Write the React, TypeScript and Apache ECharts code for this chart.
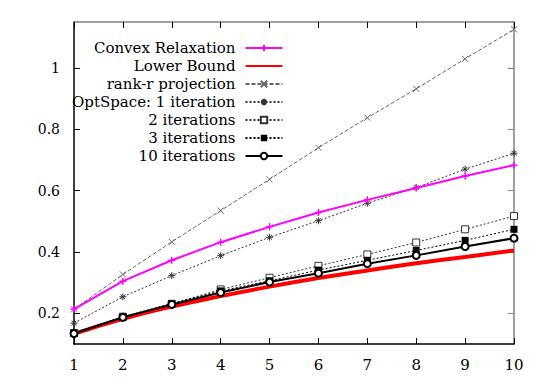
import React, { useEffect, useRef } from "react";
import * as echarts from "echarts";

const xValues = [1, 2, 3, 4, 5, 6, 7, 8, 9, 10];
const convexRelaxation = [0.214, 0.305, 0.373, 0.432, 0.482, 0.529, 0.570, 0.609, 0.648, 0.683];
const lowerBound = [0.133, 0.182, 0.222, 0.256, 0.287, 0.315, 0.340, 0.363, 0.384, 0.405];
const rankR = [0.213, 0.327, 0.433, 0.535, 0.637, 0.740, 0.838, 0.932, 1.030, 1.126];
const opt1 = [0.168, 0.254, 0.323, 0.388, 0.448, 0.502, 0.559, 0.610, 0.670, 0.722];
const opt2 = [0.136, 0.189, 0.231, 0.278, 0.316, 0.355, 0.392, 0.431, 0.474, 0.517];
const opt3 = [0.135, 0.188, 0.232, 0.273, 0.306, 0.341, 0.373, 0.405, 0.438, 0.474];
const opt10 = [0.134, 0.187, 0.229, 0.268, 0.302, 0.331, 0.362, 0.389, 0.418, 0.445];
const yTicks = [0.2, 0.4, 0.6, 0.8, 1];
const xTicks = [1, 2, 3, 4, 5, 6, 7, 8, 9, 10];

const FONT = "DejaVu Serif";
const PLUS = "path://M0,5H10M5,0V10";
const CROSS = "path://M0,0L10,10M10,0L0,10";
const STAR = "path://M0,5H10M5,0V10M1.5,1.5L8.5,8.5M8.5,1.5L1.5,8.5";

function pairs(v: number[]) {
  return xValues.map((x, i) => [x, v[i]]);
}

export default function App() {
  const ref = useRef<HTMLDivElement>(null);
  useEffect(() => {
    if (!ref.current) return;
    const chart = echarts.init(ref.current, undefined, { renderer: "svg" });
    const gray = "#666666";
    const dark = "#333333";
    chart.setOption({
      animation: false,
      backgroundColor: "#ffffff",
      textStyle: { fontFamily: FONT, fontSize: 15, color: "#000" },
      grid: { left: 74, top: 22, width: 440, height: 322 },
      legend: {
        orient: "vertical",
        left: 67,
        top: 34,
        align: "right",
        itemWidth: 37,
        itemHeight: 8,
        itemGap: 0,
        textStyle: {
          fontFamily: FONT,
          fontSize: 15,
          color: "#000",
          width: 148,
          height: 18,
          lineHeight: 18,
          align: "right",
          padding: [0, 5, 0, 0],
        },
        data: [
          "Convex Relaxation",
          { name: "Lower Bound", itemStyle: { opacity: 0 } },
          "rank-r projection",
          "OptSpace: 1 iteration",
          "2 iterations",
          "3 iterations",
          "10 iterations",
        ],
      },
      xAxis: [
        {
          type: "value",
          min: 1,
          max: 10,
          interval: 1,
          position: "bottom",
          axisLine: { lineStyle: { color: "#000", width: 1.5 } },
          axisTick: { inside: true, length: 6, lineStyle: { color: "#000" } },
          axisLabel: {
            fontFamily: FONT,
            fontSize: 15,
            color: "#000",
            margin: 13,
            customValues: xTicks,
            formatter: (v: number) => String(v),
          },
          splitLine: { show: false },
        },
        {
          type: "value",
          min: 1,
          max: 10,
          interval: 1,
          position: "top",
          axisLine: { lineStyle: { color: "#808080", width: 1.5 } },
          axisTick: { inside: true, length: 6, lineStyle: { color: "#000" } },
          axisLabel: { show: false },
          splitLine: { show: false },
        },
      ],
      yAxis: [
        {
          type: "value",
          min: 0.1,
          max: 1.15,
          position: "left",
          axisLine: { show: true, lineStyle: { color: "#000", width: 1.5 } },
          axisTick: { show: true, inside: true, length: 6, lineStyle: { color: "#000" }, customValues: yTicks },
          axisLabel: {
            fontFamily: FONT,
            fontSize: 14,
            color: "#000",
            margin: 14,
            customValues: yTicks,
            formatter: (v: number) => String(Math.round(v * 10) / 10),
          },
          splitLine: { show: false },
        },
        {
          type: "value",
          min: 0.1,
          max: 1.15,
          position: "right",
          axisLine: { show: true, lineStyle: { color: "#808080", width: 1.5 } },
          axisTick: { show: true, inside: true, length: 6, lineStyle: { color: "#808080" }, customValues: yTicks },
          axisLabel: { show: false },
          splitLine: { show: false },
        },
      ],
      series: [
        {
          name: "Convex Relaxation",
          type: "line",
          data: pairs(convexRelaxation),
          symbol: PLUS,
          symbolSize: 7,
          lineStyle: { color: "#ff00ff", width: 2 },
          itemStyle: { color: "#ff00ff", borderColor: "#ff00ff", borderWidth: 1.5 },
          z: 5,
        },
        {
          name: "Lower Bound",
          type: "line",
          data: pairs(lowerBound),
          smooth: true,
          showSymbol: false,
          symbol: "none",
          lineStyle: { color: "#ff0000", width: 4 },
          itemStyle: { color: "#ff0000" },
          z: 3,
        },
        {
          name: "rank-r projection",
          type: "line",
          data: pairs(rankR),
          symbol: CROSS,
          symbolSize: 6,
          lineStyle: { color: gray, width: 1, type: [4, 2] },
          itemStyle: { color: gray, borderColor: gray, borderWidth: 1 },
        },
        {
          name: "OptSpace: 1 iteration",
          type: "line",
          data: pairs(opt1),
          symbol: STAR,
          symbolSize: 7,
          lineStyle: { color: dark, width: 1, type: [2, 2] },
          itemStyle: { color: dark, borderColor: dark, borderWidth: 1 },
        },
        {
          name: "2 iterations",
          type: "line",
          data: pairs(opt2),
          symbol: "rect",
          symbolSize: 7,
          lineStyle: { color: dark, width: 1, type: [2, 2] },
          itemStyle: { color: "#fff", borderColor: dark, borderWidth: 1 },
        },
        {
          name: "3 iterations",
          type: "line",
          data: pairs(opt3),
          symbol: "rect",
          symbolSize: 7,
          lineStyle: { color: "#000", width: 1, type: [2, 2] },
          itemStyle: { color: "#000", borderColor: "#000", borderWidth: 0 },
        },
        {
          name: "10 iterations",
          type: "line",
          data: pairs(opt10),
          symbol: "circle",
          symbolSize: 7,
          lineStyle: { color: "#000", width: 2 },
          itemStyle: { color: "#fff", borderColor: "#000", borderWidth: 2 },
          z: 4,
        },
      ],
    });
    return () => chart.dispose();
  }, []);
  return <div ref={ref} style={{ width: 545, height: 382, position: "absolute", left: 0, top: 0 }} />;
}
